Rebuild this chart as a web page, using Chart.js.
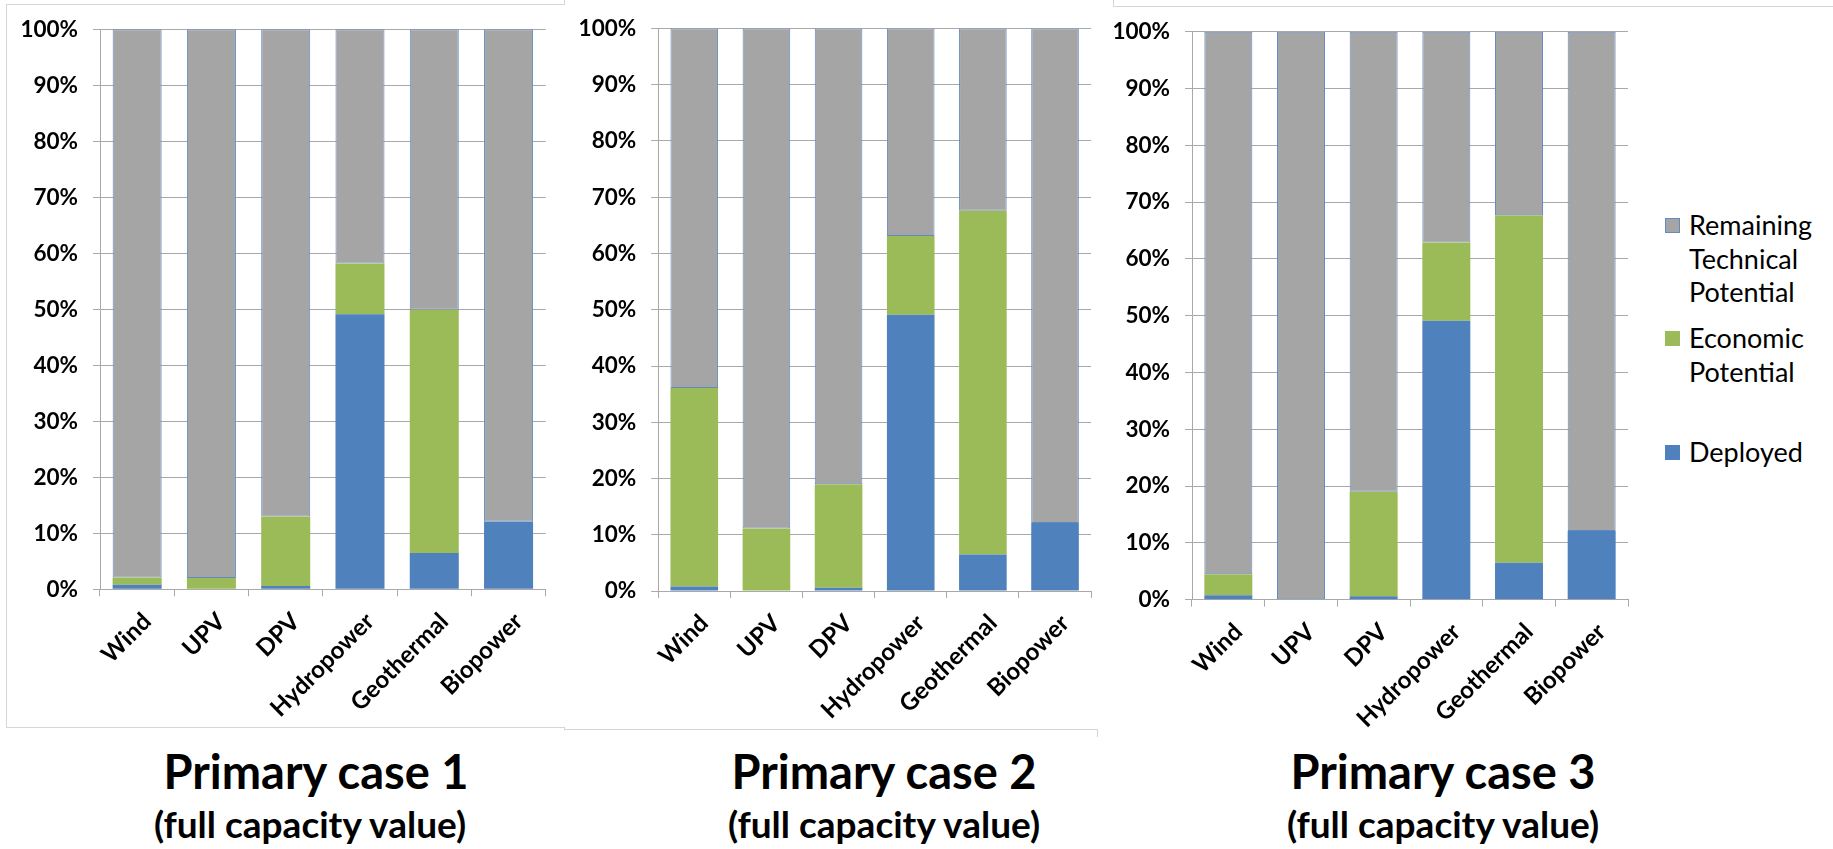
<!DOCTYPE html>
<html>
<head>
<meta charset="utf-8">
<title>Deployed, economic and technical potential</title>
<script src="https://cdn.jsdelivr.net/npm/chart.js@4.4.1/dist/chart.umd.min.js"></script>
<style>
  html, body { margin: 0; padding: 0; background: #fff; }
  body { position: relative; width: 1833px; height: 849px; overflow: hidden; font-family: Lato, "Open Sans", sans-serif; }
  canvas { position: absolute; top: 0; }
  .frame { position: absolute; background: #d6d6d6; }
  .title { position: absolute; width: 600px; text-align: center; font-weight: 700; color: #000; white-space: nowrap; line-height: 1.2; }
  .legend { position: absolute; left: 1665px; top: 0; }
  .legend .item { position: absolute; left: 0; width: 170px; }
  .legend .swatch { position: absolute; left: 0; width: 15px; height: 15px; box-sizing: border-box; }
  .legend .text { position: absolute; left: 24px; width: 140px; font-size: 27px; line-height: 33.5px; color: #000; }
</style>
</head>
<body>
<!-- light chart-area frames -->
<div class="frame" style="left:6px;top:4px;width:558px;height:1px"></div>
<div class="frame" style="left:6px;top:4px;width:1px;height:723px"></div>
<div class="frame" style="left:6px;top:727px;width:558px;height:1px"></div>
<div class="frame" style="left:564px;top:0px;width:1px;height:5px"></div>
<div class="frame" style="left:564px;top:727px;width:1px;height:3px"></div>
<div class="frame" style="left:564px;top:729px;width:534px;height:1px"></div>
<div class="frame" style="left:1097px;top:729px;width:1px;height:8px"></div>
<div class="frame" style="left:1113px;top:6px;width:720px;height:1px"></div>
<div class="frame" style="left:1113px;top:0px;width:1px;height:7px"></div>

<canvas id="case1" width="560" height="740" style="left:0px"></canvas>
<canvas id="case2" width="540" height="740" style="left:560px"></canvas>
<canvas id="case3" width="540" height="740" style="left:1100px"></canvas>

<div id="legend" class="legend"></div>

<div class="title" id="title1" style="left:16px;top:743px;font-size:47px"></div>
<div class="title" id="sub1" style="left:10px;top:802px;font-size:37px"></div>
<div class="title" id="title2" style="left:584px;top:743px;font-size:47px"></div>
<div class="title" id="sub2" style="left:584px;top:802px;font-size:37px"></div>
<div class="title" id="title3" style="left:1143px;top:743px;font-size:47px"></div>
<div class="title" id="sub3" style="left:1143px;top:802px;font-size:37px"></div>

<script>
// Technologies along the x axis
const categories = ['Wind', 'UPV', 'DPV', 'Hydropower', 'Geothermal', 'Biopower'];

// Series names (bottom to top of each stack)
const seriesNames = ['Deployed', 'Economic Potential', 'Remaining Technical Potential'];

// Share of technical potential, in percent
const deployed = [0.8, 0.1, 0.6, 49.1, 6.5, 12.1];

const economicCase1  = [1.3, 1.9, 12.4, 9.1, 43.4, 0];
const remainingCase1 = [97.9, 98.0, 87.0, 41.8, 50.1, 87.9];

const economicCase2  = [35.3, 11.0, 18.4, 14.0, 61.1, 0];
const remainingCase2 = [63.9, 88.9, 81.0, 36.9, 32.4, 87.9];

const economicCase3  = [3.7, 0, 18.4, 13.8, 61.2, 0];
const remainingCase3 = [95.5, 99.9, 81.0, 37.1, 32.3, 87.9];

// Value axis ticks
const percentTicks = [0, 10, 20, 30, 40, 50, 60, 70, 80, 90, 100];

// Panel captions
const caseTitles = ['Primary case 1', 'Primary case 2', 'Primary case 3'];
const caseSubtitle = '(full capacity value)';

// Styling
const BLUE = '#4F81BD';
const GREEN = '#9BBB59';
const GREY = '#A5A5A5';
const GREY_EDGE = '#6189C4';
const GRID = '#A9A9A9';
const FONT = 'Lato, "Open Sans", sans-serif';
const seriesColors = [BLUE, GREEN, GREY];

function makeChart(id, economic, remaining, geo) {
  return new Chart(document.getElementById(id), {
    type: 'bar',
    data: {
      labels: categories,
      datasets: [
        { label: seriesNames[0], data: deployed, backgroundColor: BLUE, borderWidth: 0 },
        { label: seriesNames[1], data: economic, backgroundColor: GREEN, borderWidth: 0 },
        { label: seriesNames[2], data: remaining, backgroundColor: GREY,
          borderColor: GREY_EDGE, borderWidth: 1, borderSkipped: false }
      ]
    },
    options: {
      responsive: false,
      animation: false,
      layout: { padding: { left: 0, top: geo.top, right: geo.right, bottom: 0 } },
      datasets: { bar: { barPercentage: 0.66, categoryPercentage: 1 } },
      plugins: { legend: { display: false }, tooltip: { enabled: false } },
      scales: {
        x: {
          stacked: true,
          offset: true,
          grid: { drawOnChartArea: false, drawTicks: true, tickLength: 7, color: GRID, offset: true },
          border: { color: GRID },
          ticks: {
            autoSkip: false, minRotation: 45, maxRotation: 45,
            padding: 11, labelOffset: 10, color: '#000',
            font: { family: FONT, size: 24, weight: 'bold' }
          },
          afterFit(s) { s.height = geo.xh; }
        },
        y: {
          stacked: true,
          min: 0, max: 100,
          grid: { color: GRID, tickLength: 7 },
          border: { color: GRID },
          ticks: {
            padding: 15, color: '#000',
            font: { family: FONT, size: 22.5, weight: 'bold' },
            callback: v => v + '%'
          },
          afterBuildTicks(s) { s.ticks = percentTicks.map(v => ({ value: v })); },
          afterFit(s) { s.width = geo.yw; }
        }
      }
    }
  });
}

makeChart('case1', economicCase1, remainingCase1, { top: 29.3, right: 14.3, yw: 100, xh: 150.7 });
makeChart('case2', economicCase2, remainingCase2, { top: 27.3, right: 8.9, yw: 98.2, xh: 149 });
makeChart('case3', economicCase3, remainingCase3, { top: 31.7, right: 12, yw: 92, xh: 140.3 });

// Captions under each panel
caseTitles.forEach((t, i) => {
  document.getElementById('title' + (i + 1)).textContent = t;
  document.getElementById('sub' + (i + 1)).textContent = caseSubtitle;
});

// Legend, top entry is the top of the stack
const legendTops = [208, 321, 435];
const legend = document.getElementById('legend');
[2, 1, 0].forEach((s, k) => {
  const item = document.createElement('div');
  item.className = 'item';
  item.style.top = legendTops[k] + 'px';
  const sw = document.createElement('div');
  sw.className = 'swatch';
  sw.style.top = '9.5px';
  sw.style.background = seriesColors[s];
  if (s === 2) sw.style.border = '1px solid ' + GREY_EDGE;
  const tx = document.createElement('div');
  tx.className = 'text';
  tx.textContent = seriesNames[s];
  item.appendChild(sw);
  item.appendChild(tx);
  legend.appendChild(item);
});
</script>
</body>
</html>
